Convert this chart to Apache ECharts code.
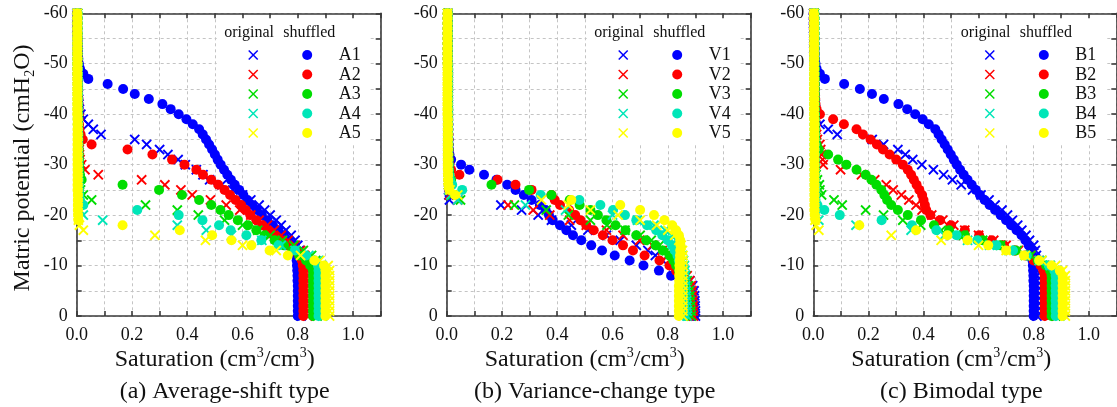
<!DOCTYPE html>
<html><head><meta charset="utf-8">
<script src="https://cdn.jsdelivr.net/npm/echarts@6/dist/echarts.min.js"></script>
<style>html,body{margin:0;padding:0;background:#fff}#c{width:1117px;height:407px}
#warm{position:absolute;left:-9999px;top:0;font-family:'Liberation Serif';font-size:20px}</style>
</head><body><div id="warm">Saturation 0.2 -60</div><div id="c"></div>
<script>
// ---------- data ----------
const potential = [0,-1,-2,-3,-4,-5,-6,-7,-8,-9,-10,-11,-12,-13,-14,-15,-16,-17,-18,-19,-20,-21,-22,-23,-24,-25,-26,-27,-28,-29,-30,-31,-32,-33,-34,-35,-36,-37,-38,-39,-40,-41,-42,-43,-44,-45,-46,-47,-48,-49,-50,-51,-52,-53,-54,-55,-56,-57,-58,-59,-60];
const xTickLabels = ['0.0','0.2','0.4','0.6','0.8','1.0'];
const yTickLabels = ['-60','-50','-40','-30','-20','-10','0'];
const panelCaptions = ['(a) Average-shift type','(b) Variance-change type','(c) Bimodal type'];
const sampleNamesA = ['A1','A2','A3','A4','A5'];
const sampleNamesV = ['V1','V2','V3','V4','V5'];
const sampleNamesB = ['B1','B2','B3','B4','B5'];
const legendHeader = ['original','shuffled'];

// (a) Average-shift type, saturation at potential 0..-60
const A1_shuffled = [
0.800,0.800,0.800,0.800,0.800,0.800,0.800,0.799,0.799,0.798,
0.797,0.796,0.795,0.792,0.780,0.765,0.750,0.730,0.710,0.690,
0.670,0.652,0.635,0.618,0.603,0.588,0.572,0.558,0.545,0.533,
0.521,0.510,0.500,0.490,0.479,0.468,0.456,0.443,0.420,0.397,
0.369,0.340,0.310,0.261,0.210,0.168,0.112,0.042,0.024,0.012,
0.008,0.006,0.005,0.005,0.004,0.004,0.003,0.003,0.002,0.002,
0.001];
const A1_original = [
0.812,0.812,0.812,0.812,0.812,0.812,0.812,0.812,0.812,0.812,
0.812,0.811,0.810,0.806,0.800,0.790,0.776,0.757,0.740,0.722,
0.700,0.680,0.660,0.630,0.600,0.565,0.525,0.481,0.457,0.433,
0.393,0.367,0.330,0.300,0.253,0.210,0.088,0.060,0.042,0.024,
0.015,0.010,0.008,0.007,0.006,0.005,0.005,0.004,0.004,0.004,
0.003,0.003,0.003,0.002,0.002,0.002,0.002,0.001,0.001,0.001,
0.001];
const A2_shuffled = [
0.820,0.820,0.820,0.820,0.820,0.820,0.820,0.820,0.820,0.820,
0.818,0.815,0.805,0.785,0.760,0.734,0.712,0.692,0.672,0.650,
0.628,0.612,0.595,0.575,0.555,0.535,0.512,0.487,0.457,0.433,
0.390,0.345,0.274,0.184,0.054,0.022,0.014,0.010,0.008,0.007,
0.007,0.006,0.006,0.006,0.005,0.005,0.005,0.005,0.004,0.004,
0.004,0.004,0.003,0.003,0.003,0.003,0.002,0.002,0.002,0.002,
0.002];
const A2_original = [
0.835,0.835,0.835,0.835,0.835,0.835,0.835,0.835,0.835,0.835,
0.835,0.832,0.825,0.810,0.790,0.765,0.740,0.715,0.690,0.660,
0.630,0.590,0.541,0.484,0.418,0.377,0.319,0.235,0.078,0.030,
0.018,0.012,0.010,0.009,0.008,0.008,0.007,0.007,0.006,0.006,
0.006,0.005,0.005,0.005,0.005,0.004,0.004,0.004,0.004,0.004,
0.003,0.003,0.003,0.003,0.003,0.003,0.003,0.003,0.003,0.003,
0.003];
const A3_shuffled = [
0.855,0.855,0.855,0.855,0.855,0.855,0.855,0.855,0.855,0.855,
0.845,0.830,0.805,0.780,0.750,0.716,0.680,0.650,0.620,0.583,
0.550,0.520,0.487,0.443,0.381,0.298,0.166,0.018,0.012,0.010,
0.008,0.008,0.007,0.007,0.006,0.006,0.006,0.005,0.005,0.005,
0.005,0.005,0.004,0.004,0.004,0.004,0.004,0.004,0.003,0.003,
0.003,0.003,0.003,0.003,0.003,0.003,0.003,0.003,0.003,0.003,
0.003];
const A3_original = [
0.870,0.870,0.870,0.870,0.870,0.870,0.870,0.870,0.870,0.870,
0.868,0.865,0.850,0.820,0.785,0.745,0.700,0.655,0.600,0.535,
0.440,0.364,0.249,0.054,0.024,0.014,0.010,0.008,0.008,0.007,
0.007,0.007,0.006,0.006,0.006,0.006,0.005,0.005,0.005,0.005,
0.005,0.005,0.004,0.004,0.004,0.004,0.004,0.004,0.004,0.004,
0.003,0.003,0.003,0.003,0.003,0.003,0.003,0.003,0.003,0.003,
0.003];
const A4_shuffled = [
0.875,0.875,0.875,0.875,0.875,0.875,0.875,0.875,0.875,0.875,
0.873,0.860,0.830,0.790,0.730,0.668,0.614,0.557,0.515,0.455,
0.369,0.219,0.024,0.012,0.009,0.008,0.007,0.007,0.006,0.006,
0.006,0.006,0.005,0.005,0.005,0.005,0.005,0.005,0.004,0.004,
0.004,0.004,0.004,0.004,0.004,0.004,0.004,0.004,0.004,0.004,
0.003,0.003,0.003,0.003,0.003,0.003,0.003,0.003,0.003,0.003,
0.003];
const A4_original = [
0.890,0.890,0.890,0.890,0.890,0.890,0.890,0.890,0.890,0.890,
0.888,0.875,0.840,0.790,0.740,0.670,0.560,0.469,0.364,0.094,
0.024,0.012,0.009,0.008,0.007,0.007,0.006,0.006,0.006,0.006,
0.005,0.005,0.005,0.005,0.005,0.005,0.005,0.005,0.005,0.005,
0.004,0.004,0.004,0.004,0.004,0.004,0.004,0.004,0.004,0.004,
0.003,0.003,0.003,0.003,0.003,0.003,0.003,0.003,0.003,0.003,
0.003];
const A5_shuffled = [
0.900,0.900,0.900,0.900,0.900,0.900,0.900,0.900,0.900,0.900,
0.895,0.860,0.764,0.698,0.632,0.560,0.490,0.373,0.166,0.006,
0.005,0.004,0.004,0.004,0.004,0.003,0.003,0.003,0.003,0.003,
0.003,0.003,0.003,0.003,0.003,0.003,0.003,0.003,0.003,0.003,
0.002,0.002,0.002,0.002,0.002,0.002,0.002,0.002,0.002,0.002,
0.002,0.002,0.002,0.002,0.002,0.002,0.002,0.002,0.002,0.002,
0.002];
const A5_original = [
0.915,0.915,0.915,0.915,0.915,0.915,0.915,0.915,0.915,0.915,
0.910,0.880,0.810,0.722,0.600,0.466,0.283,0.024,0.010,0.006,
0.005,0.005,0.005,0.005,0.005,0.005,0.005,0.005,0.005,0.005,
0.004,0.004,0.004,0.004,0.004,0.004,0.004,0.004,0.004,0.004,
0.003,0.003,0.003,0.003,0.003,0.003,0.003,0.003,0.003,0.003,
0.003,0.003,0.003,0.003,0.003,0.003,0.003,0.003,0.003,0.003,
0.002];

// (b) Variance-change type
const V1_shuffled = [
0.895,0.894,0.892,0.890,0.887,0.880,0.868,0.845,0.812,0.768,
0.712,0.662,0.608,0.562,0.523,0.487,0.457,0.433,0.410,0.383,
0.370,0.358,0.337,0.307,0.279,0.249,0.219,0.180,0.135,0.082,
0.052,0.016,0.010,0.008,0.007,0.007,0.006,0.006,0.006,0.005,
0.005,0.005,0.005,0.005,0.005,0.005,0.005,0.005,0.005,0.005,
0.004,0.004,0.004,0.004,0.004,0.004,0.004,0.004,0.004,0.004,
0.004];
const V1_original = [
0.900,0.900,0.899,0.898,0.897,0.895,0.890,0.880,0.865,0.845,
0.820,0.782,0.755,0.728,0.686,0.628,0.578,0.511,0.451,0.379,
0.331,0.271,0.196,0.010,0.008,0.007,0.007,0.006,0.006,0.006,
0.005,0.005,0.005,0.005,0.005,0.005,0.005,0.005,0.005,0.005,
0.005,0.005,0.005,0.005,0.005,0.005,0.005,0.005,0.005,0.005,
0.004,0.004,0.004,0.004,0.004,0.004,0.004,0.004,0.004,0.004,
0.004];
const V2_shuffled = [
0.885,0.884,0.883,0.880,0.878,0.875,0.870,0.860,0.845,0.830,
0.806,0.770,0.716,0.674,0.638,0.600,0.565,0.532,0.505,0.484,
0.465,0.443,0.410,0.391,0.379,0.307,0.249,0.184,0.046,0.016,
0.010,0.008,0.007,0.007,0.006,0.006,0.006,0.005,0.005,0.005,
0.005,0.005,0.005,0.005,0.005,0.005,0.005,0.005,0.005,0.005,
0.004,0.004,0.004,0.004,0.004,0.004,0.004,0.004,0.004,0.004,
0.004];
const V2_original = [
0.893,0.893,0.892,0.891,0.890,0.888,0.885,0.880,0.870,0.855,
0.835,0.815,0.800,0.780,0.744,0.698,0.638,0.578,0.505,0.445,
0.373,0.313,0.222,0.040,0.010,0.008,0.007,0.007,0.006,0.006,
0.005,0.005,0.005,0.005,0.005,0.005,0.005,0.005,0.005,0.005,
0.005,0.005,0.005,0.005,0.005,0.005,0.005,0.005,0.005,0.005,
0.004,0.004,0.004,0.004,0.004,0.004,0.004,0.004,0.004,0.004,
0.004];
const V3_shuffled = [
0.870,0.869,0.868,0.867,0.866,0.865,0.860,0.855,0.850,0.840,
0.830,0.820,0.806,0.782,0.756,0.722,0.686,0.647,0.611,0.578,
0.547,0.520,0.481,0.445,0.379,0.298,0.162,0.016,0.010,0.008,
0.007,0.007,0.006,0.006,0.006,0.005,0.005,0.005,0.005,0.005,
0.005,0.005,0.005,0.005,0.005,0.005,0.005,0.005,0.005,0.005,
0.004,0.004,0.004,0.004,0.004,0.004,0.004,0.004,0.004,0.004,
0.004];
const V3_original = [
0.885,0.884,0.883,0.882,0.880,0.878,0.875,0.870,0.865,0.855,
0.845,0.830,0.815,0.795,0.770,0.740,0.700,0.645,0.580,0.520,
0.440,0.360,0.245,0.050,0.020,0.010,0.008,0.007,0.007,0.006,
0.006,0.006,0.005,0.005,0.005,0.005,0.005,0.005,0.005,0.005,
0.005,0.005,0.005,0.005,0.005,0.005,0.005,0.005,0.005,0.005,
0.004,0.004,0.004,0.004,0.004,0.004,0.004,0.004,0.004,0.004,
0.004];
const V4_shuffled = [
0.860,0.860,0.859,0.858,0.857,0.856,0.855,0.853,0.850,0.848,
0.845,0.840,0.835,0.825,0.815,0.800,0.780,0.758,0.725,0.686,
0.645,0.602,0.556,0.480,0.340,0.056,0.020,0.012,0.008,0.007,
0.007,0.006,0.006,0.006,0.005,0.005,0.005,0.005,0.005,0.005,
0.005,0.005,0.005,0.005,0.005,0.005,0.005,0.005,0.005,0.005,
0.004,0.004,0.004,0.004,0.004,0.004,0.004,0.004,0.004,0.004,
0.004];
const V4_original = [
0.870,0.870,0.869,0.868,0.867,0.866,0.865,0.864,0.863,0.862,
0.860,0.857,0.853,0.848,0.840,0.830,0.815,0.790,0.750,0.690,
0.600,0.430,0.285,0.040,0.015,0.008,0.007,0.007,0.006,0.006,
0.006,0.005,0.005,0.005,0.005,0.005,0.005,0.005,0.005,0.005,
0.005,0.005,0.005,0.005,0.005,0.005,0.005,0.005,0.005,0.005,
0.004,0.004,0.004,0.004,0.004,0.004,0.004,0.004,0.004,0.004,
0.004];
const V5_shuffled = [
0.840,0.840,0.840,0.840,0.840,0.840,0.840,0.841,0.841,0.842,
0.842,0.843,0.844,0.845,0.846,0.845,0.840,0.830,0.816,0.788,
0.750,0.700,0.628,0.451,0.030,0.010,0.006,0.005,0.005,0.004,
0.004,0.004,0.004,0.004,0.004,0.004,0.004,0.004,0.004,0.004,
0.003,0.003,0.003,0.003,0.003,0.003,0.003,0.003,0.003,0.003,
0.003,0.003,0.003,0.003,0.003,0.003,0.003,0.003,0.003,0.003,
0.003];
const V5_original = [
0.855,0.855,0.855,0.855,0.855,0.855,0.855,0.855,0.855,0.855,
0.855,0.855,0.855,0.853,0.848,0.840,0.825,0.800,0.760,0.700,
0.620,0.520,0.440,0.343,0.040,0.012,0.006,0.005,0.005,0.004,
0.004,0.004,0.004,0.004,0.004,0.004,0.004,0.004,0.004,0.004,
0.003,0.003,0.003,0.003,0.003,0.003,0.003,0.003,0.003,0.003,
0.003,0.003,0.003,0.003,0.003,0.003,0.003,0.003,0.003,0.003,
0.003];

// (c) Bimodal type
const B1_shuffled = [
0.800,0.800,0.800,0.800,0.800,0.800,0.800,0.799,0.799,0.798,
0.797,0.796,0.795,0.792,0.782,0.770,0.756,0.738,0.718,0.700,
0.680,0.660,0.640,0.622,0.605,0.590,0.575,0.560,0.546,0.533,
0.521,0.510,0.499,0.488,0.477,0.466,0.455,0.443,0.419,0.397,
0.370,0.341,0.309,0.256,0.213,0.169,0.112,0.042,0.024,0.012,
0.008,0.006,0.005,0.005,0.004,0.004,0.003,0.003,0.002,0.002,
0.001];
const B1_original = [
0.812,0.812,0.812,0.812,0.812,0.812,0.812,0.812,0.812,0.812,
0.812,0.811,0.810,0.806,0.800,0.785,0.772,0.757,0.742,0.723,
0.705,0.685,0.660,0.638,0.609,0.578,0.537,0.505,0.473,0.436,
0.394,0.361,0.334,0.307,0.255,0.214,0.087,0.054,0.024,0.014,
0.010,0.008,0.007,0.006,0.006,0.005,0.005,0.004,0.004,0.004,
0.003,0.003,0.003,0.002,0.002,0.002,0.002,0.001,0.001,0.001,
0.001];
const B2_shuffled = [
0.840,0.840,0.840,0.840,0.840,0.840,0.840,0.840,0.840,0.835,
0.825,0.800,0.770,0.734,0.692,0.648,0.602,0.550,0.500,0.460,
0.425,0.410,0.405,0.400,0.395,0.385,0.375,0.365,0.355,0.343,
0.325,0.301,0.277,0.253,0.231,0.208,0.180,0.157,0.111,0.072,
0.024,0.012,0.008,0.007,0.006,0.006,0.005,0.005,0.005,0.004,
0.004,0.004,0.004,0.003,0.003,0.003,0.003,0.002,0.002,0.002,
0.002];
const B2_original = [
0.855,0.855,0.855,0.855,0.855,0.855,0.855,0.855,0.855,0.850,
0.840,0.820,0.790,0.745,0.700,0.655,0.600,0.550,0.510,0.470,
0.430,0.395,0.373,0.347,0.320,0.290,0.265,0.223,0.175,0.099,
0.036,0.034,0.030,0.027,0.024,0.015,0.012,0.009,0.008,0.007,
0.007,0.006,0.006,0.006,0.005,0.005,0.005,0.005,0.004,0.004,
0.004,0.004,0.004,0.004,0.004,0.003,0.003,0.003,0.003,0.003,
0.003];
const B3_shuffled = [
0.865,0.865,0.865,0.865,0.865,0.865,0.865,0.865,0.865,0.860,
0.845,0.815,0.780,0.735,0.680,0.615,0.550,0.493,0.438,0.391,
0.343,0.307,0.283,0.268,0.258,0.247,0.229,0.211,0.190,0.157,
0.120,0.090,0.054,0.020,0.012,0.008,0.007,0.007,0.006,0.006,
0.006,0.005,0.005,0.005,0.005,0.005,0.005,0.005,0.005,0.005,
0.004,0.004,0.004,0.004,0.004,0.004,0.004,0.004,0.004,0.004,
0.004];
const B3_original = [
0.880,0.880,0.880,0.880,0.880,0.880,0.880,0.880,0.880,0.875,
0.860,0.830,0.790,0.740,0.680,0.615,0.545,0.465,0.390,0.325,
0.255,0.190,0.105,0.075,0.030,0.024,0.022,0.015,0.010,0.007,
0.007,0.006,0.006,0.006,0.005,0.005,0.005,0.005,0.005,0.005,
0.005,0.005,0.005,0.005,0.005,0.005,0.005,0.005,0.005,0.005,
0.004,0.004,0.004,0.004,0.004,0.004,0.004,0.004,0.004,0.004,
0.004];
const B4_shuffled = [
0.880,0.880,0.880,0.880,0.880,0.880,0.880,0.880,0.880,0.875,
0.855,0.820,0.775,0.725,0.665,0.595,0.520,0.447,0.358,0.248,
0.096,0.040,0.015,0.008,0.007,0.007,0.006,0.006,0.006,0.005,
0.005,0.005,0.005,0.005,0.005,0.005,0.005,0.005,0.005,0.005,
0.004,0.004,0.004,0.004,0.004,0.004,0.004,0.004,0.004,0.004,
0.004,0.004,0.004,0.004,0.004,0.004,0.004,0.004,0.004,0.004,
0.003];
const B4_original = [
0.895,0.895,0.895,0.895,0.895,0.895,0.895,0.895,0.895,0.885,
0.860,0.820,0.770,0.710,0.640,0.560,0.475,0.355,0.155,0.020,
0.010,0.007,0.006,0.006,0.006,0.005,0.005,0.005,0.005,0.005,
0.005,0.005,0.005,0.005,0.005,0.005,0.005,0.005,0.005,0.005,
0.004,0.004,0.004,0.004,0.004,0.004,0.004,0.004,0.004,0.004,
0.004,0.004,0.004,0.004,0.004,0.004,0.004,0.004,0.004,0.004,
0.003];
const B5_shuffled = [
0.905,0.905,0.905,0.905,0.905,0.905,0.905,0.905,0.905,0.895,
0.865,0.820,0.765,0.700,0.635,0.560,0.487,0.373,0.167,0.008,
0.005,0.004,0.004,0.004,0.004,0.004,0.004,0.004,0.004,0.004,
0.004,0.004,0.004,0.004,0.004,0.004,0.004,0.004,0.004,0.004,
0.003,0.003,0.003,0.003,0.003,0.003,0.003,0.003,0.003,0.003,
0.003,0.003,0.003,0.003,0.003,0.003,0.003,0.003,0.003,0.003,
0.002];
const B5_original = [
0.915,0.915,0.915,0.915,0.915,0.915,0.915,0.915,0.915,0.905,
0.880,0.830,0.770,0.700,0.600,0.464,0.283,0.020,0.010,0.006,
0.005,0.005,0.005,0.005,0.005,0.005,0.005,0.005,0.005,0.005,
0.004,0.004,0.004,0.004,0.004,0.004,0.004,0.004,0.004,0.004,
0.003,0.003,0.003,0.003,0.003,0.003,0.003,0.003,0.003,0.003,
0.003,0.003,0.003,0.003,0.003,0.003,0.003,0.003,0.003,0.003,
0.002];

// ---------- assembly ----------
const colors = ['#0000ff','#ff0000','#00dd00','#00e6b8','#ffff00'];
const FONT = "'Liberation Serif', 'DejaVu Serif', serif";
const TXT = '#111';
const crossPath = 'path://M1.3,0L5,3.7L8.7,0L10,1.3L6.3,5L10,8.7L8.7,10L5,6.3L1.3,10L0,8.7L3.7,5L0,1.3Z';

const panels = [
  {names: sampleNamesA, shuf: [A1_shuffled,A2_shuffled,A3_shuffled,A4_shuffled,A5_shuffled], orig: [A1_original,A2_original,A3_original,A4_original,A5_original]},
  {names: sampleNamesV, shuf: [V1_shuffled,V2_shuffled,V3_shuffled,V4_shuffled,V5_shuffled], orig: [V1_original,V2_original,V3_original,V4_original,V5_original]},
  {names: sampleNamesB, shuf: [B1_shuffled,B2_shuffled,B3_shuffled,B4_shuffled,B5_shuffled], orig: [B1_original,B2_original,B3_original,B4_original,B5_original]}
];
const gridLefts = [76.7, 446.7, 813.3];
const gridTop = 13.3, gridH = 302.7;
const gridWs = [304, 304, 303];

function build() {
const grids = [], xAxes = [], yAxes = [], series = [], graphics = [];
const axisLineStyle = {color: '#3a3a3a', width: 1.6};
const splitStyle = {color: '#c4c4c4', width: 1, type: [3, 3]};

function pairs(arr) {
  const out = [];
  for (let i = 0; i < arr.length && i < potential.length; i++) out.push([arr[i], potential[i]]);
  return out;
}

panels.forEach((pn, p) => {
  grids.push({left: gridLefts[p], top: gridTop, width: gridWs[p], height: gridH, containLabel: false, outerBoundsMode: 'none'});
  xAxes[p] = {
    type: 'value', gridIndex: p, min: 0, max: 1.1, interval: 0.1, position: 'bottom',
    axisLine: {show: true, onZero: false, lineStyle: axisLineStyle},
    axisTick: {show: true, inside: true, length: 5, lineStyle: axisLineStyle},
    splitLine: {show: true, lineStyle: splitStyle},
    axisLabel: {interval: 0, margin: 10, color: TXT, fontFamily: FONT, fontSize: 18,
      formatter: v => { const s = v.toFixed(1); return xTickLabels.indexOf(s) >= 0 ? s : ''; }}
  };
  xAxes[p + 3] = {
    type: 'value', gridIndex: p, min: 0, max: 1.1, interval: 0.1, position: 'top',
    axisLine: {show: true, onZero: false, lineStyle: axisLineStyle},
    axisTick: {show: true, inside: true, length: 5, lineStyle: axisLineStyle},
    splitLine: {show: false}, axisLabel: {show: false}
  };
  yAxes[p] = {
    type: 'value', gridIndex: p, min: -60, max: 0, interval: 5, inverse: true, position: 'left',
    axisLine: {show: true, onZero: false, lineStyle: axisLineStyle},
    axisTick: {show: true, inside: true, length: 5, lineStyle: axisLineStyle},
    splitLine: {show: true, lineStyle: splitStyle},
    axisLabel: {interval: 0, margin: 9, color: TXT, fontFamily: FONT, fontSize: 18,
      formatter: v => { const s = String(Math.round(v)); return yTickLabels.indexOf(s) >= 0 ? s : ''; }}
  };
  yAxes[p + 3] = {
    type: 'value', gridIndex: p, min: -60, max: 0, interval: 5, inverse: true, position: 'right',
    axisLine: {show: true, onZero: false, lineStyle: axisLineStyle},
    axisTick: {show: true, inside: true, length: 5, lineStyle: axisLineStyle},
    splitLine: {show: false}, axisLabel: {show: false}
  };
  for (let i = 0; i < 5; i++) {
    series.push({type: 'scatter', xAxisIndex: p, yAxisIndex: p, name: pn.names[i] + ' shuffled',
      symbol: 'circle', symbolSize: 10, clip: false, silent: true, animation: false,
      itemStyle: {color: colors[i], opacity: 1}, data: pairs(pn.shuf[i])});
    series.push({type: 'scatter', xAxisIndex: p, yAxisIndex: p, name: pn.names[i] + ' original',
      symbol: crossPath, symbolSize: 10.5, clip: false, silent: true, animation: false,
      itemStyle: {color: colors[i], opacity: 1}, data: pairs(pn.orig[i])});
  }

  // legend block
  const gx = gridLefts[p];
  graphics.push({type: 'rect', z: 1, shape: {x: gx + 140, y: 19, width: 152, height: 124}, style: {fill: '#fff'}});
  graphics.push({type: 'text', z: 10, x: gx + 147.5, y: 33,
    style: {text: legendHeader[0], fontFamily: FONT, fontSize: 16, fill: TXT, align: 'left', verticalAlign: 'middle', textAlign: 'left', textVerticalAlign: 'middle'}});
  graphics.push({type: 'text', z: 10, x: gx + 206.5, y: 33,
    style: {text: legendHeader[1], fontFamily: FONT, fontSize: 16, fill: TXT, align: 'left', verticalAlign: 'middle', textAlign: 'left', textVerticalAlign: 'middle'}});
  const rowsY = [55, 74.5, 94, 113.5, 133];
  for (let i = 0; i < 5; i++) {
    const cy = rowsY[i], cx = gx + 176.5, dx = gx + 230.5;
    graphics.push({type: 'line', z: 10, shape: {x1: cx - 4.5, y1: cy - 4.5, x2: cx + 4.5, y2: cy + 4.5}, style: {stroke: colors[i], lineWidth: 1.5}});
    graphics.push({type: 'line', z: 10, shape: {x1: cx - 4.5, y1: cy + 4.5, x2: cx + 4.5, y2: cy - 4.5}, style: {stroke: colors[i], lineWidth: 1.5}});
    graphics.push({type: 'circle', z: 10, shape: {cx: dx, cy: cy, r: 5}, style: {fill: colors[i]}});
    graphics.push({type: 'text', z: 10, x: gx + 262, y: cy + 0.5,
      style: {text: pn.names[i], fontFamily: FONT, fontSize: 18, fill: TXT, align: 'left', verticalAlign: 'middle', textAlign: 'left', textVerticalAlign: 'middle'}});
  }
  // x axis name with superscripts
  graphics.push({type: 'text', z: 10, x: gx + 138, y: 360,
    style: {text: '{a|Saturation (cm}{s|3}{a|/cm}{s|3}{a|)}', align: 'center', verticalAlign: 'middle', textAlign: 'center', textVerticalAlign: 'middle',
      fontFamily: FONT, fontSize: 24, fill: TXT,
      rich: {a: {fontFamily: FONT, fontSize: 24, lineHeight: 28, fill: TXT}, s: {fontFamily: FONT, fontSize: 14, lineHeight: 15, verticalAlign: 'top', fill: TXT}}}});
  // caption
  graphics.push({type: 'text', z: 10, x: gx + 148, y: 391.5,
    style: {text: panelCaptions[p], fontFamily: FONT, fontSize: 24, fill: TXT, align: 'center', verticalAlign: 'middle', textAlign: 'center', textVerticalAlign: 'middle'}});
});

// y axis name (panel a only)
graphics.push({type: 'text', z: 10, x: 23, y: 168, rotation: Math.PI / 2,
  style: {text: '{a|Matric potential (cmH}{b|2}{a|O)}', align: 'center', verticalAlign: 'middle', textAlign: 'center', textVerticalAlign: 'middle',
    fontFamily: FONT, fontSize: 24, fill: TXT,
    rich: {a: {fontFamily: FONT, fontSize: 24, lineHeight: 28, fill: TXT}, b: {fontFamily: FONT, fontSize: 14, lineHeight: 15, verticalAlign: 'bottom', fill: TXT}}}});

const chart = echarts.init(document.getElementById('c'), null, {renderer: 'canvas'});
chart.setOption({
  animation: false,
  backgroundColor: '#fff',
  textStyle: {fontFamily: FONT},
  grid: grids,
  xAxis: xAxes,
  yAxis: yAxes,
  series: series,
  graphic: {elements: graphics}
});
}

if (document.fonts && document.fonts.load) {
  Promise.all([document.fonts.load("24px 'Liberation Serif'"), document.fonts.load("16px 'Liberation Serif'")]).then(build, build);
} else { build(); }
</script>
</body></html>
